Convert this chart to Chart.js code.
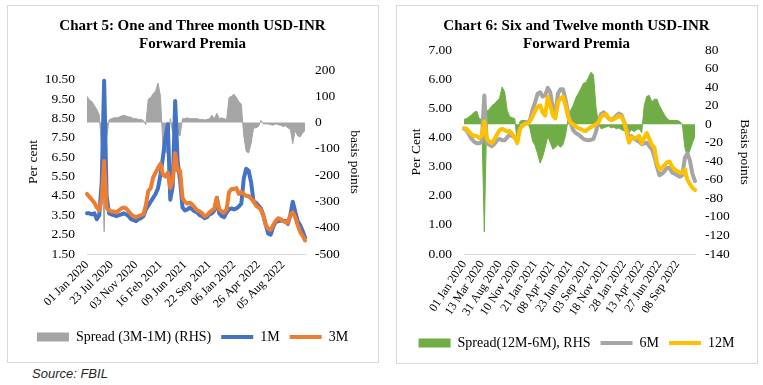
<!DOCTYPE html>
<html>
<head>
<meta charset="utf-8">
<script src="https://cdn.jsdelivr.net/npm/chart.js@4.4.1/dist/chart.umd.min.js"></script>
<style>
  html, body { margin: 0; padding: 0; background: #fff; }
  body { width: 763px; height: 385px; position: relative; overflow: hidden; }
  .caja { position: absolute; border: 1px solid #d9d9d9; box-sizing: border-box; }
  canvas { position: absolute; }
  #fuente { position: absolute; left: 32px; top: 366px; font: italic 13px "Liberation Sans", Arial, sans-serif; color: #262626; }
</style>
</head>
<body>
<div class="caja" style="left:7px;top:5px;width:372px;height:358px"></div>
<div class="caja" style="left:396px;top:5px;width:362px;height:359px"></div>
<canvas id="grafico5" width="369" height="355" style="left:8px;top:6px"></canvas>
<canvas id="grafico6" width="359" height="356" style="left:397px;top:6px"></canvas>
<div id="fuente">Source: FBIL</div>

<script>
// 📅 etiquetas del eje X (una cada N puntos)
const etiquetas5 = ["01 Jan 2020", "23 Jul 2020", "03 Nov 2020", "16 Feb 2021", "09 Jun 2021",
    "22 Sep 2021", "06 Jan 2022", "26 Apr 2022", "05 Aug 2022"];
const etiquetas6 = ["01 Jan 2020", "13 Mar 2020", "31 Aug 2020", "10 Nov 2020", "21 Jan 2021",
    "08 Apr 2021", "23 Jun 2021", "03 Sep 2021", "18 Nov 2021", "28 Jan 2022", "13 Apr 2022",
    "27 Jun 2022", "08 Sep 2022"];
const cada5 = 10;
const cada6 = 7;

// 📊 Chart 5 - 1M y 3M (%), spread en pb
const fwd1M = [3.6, 3.6, 3.55, 3.6, 3.3, 3.5, 5.2, 10.45, 4.5, 3.6,
    3.55, 3.5, 3.45, 3.5, 3.55, 3.6, 3.55, 3.45, 3.3, 3.25,
    3.2, 3.3, 3.35, 3.45, 3.8, 4.0, 4.2, 4.4, 4.6, 4.9,
    5.6, 6.5, 7.5, 8.2, 4.3, 5.0, 9.4, 6.3, 5.3, 3.9,
    3.75, 3.8, 3.9, 3.8, 3.7, 3.65, 3.5, 3.45, 3.35, 3.4,
    3.55, 3.6, 3.75, 4.4, 3.6, 3.45, 3.4, 3.65, 3.8, 3.85,
    3.8, 3.85, 3.95, 4.1, 5.4, 5.9, 5.8, 5.2, 4.2, 4.15,
    4.0, 3.85, 3.5, 3.0, 2.55, 2.5, 2.9, 3.15, 3.2, 3.25,
    3.2, 3.2, 3.05, 3.5, 4.2, 3.7, 3.2, 3.0, 2.7, 2.35];
const fwd3M = [4.6, 4.45, 4.3, 4.15, 3.9, 3.75, 4.3, 6.3, 3.9, 3.75,
    3.7, 3.7, 3.65, 3.75, 3.85, 3.9, 3.85, 3.7, 3.55, 3.45,
    3.4, 3.45, 3.5, 3.55, 4.0, 4.75, 4.9, 5.45, 5.7, 5.95,
    6.15, 5.6, 5.5, 5.7, 4.9, 5.3, 6.7, 5.8, 5.8, 4.4,
    4.2, 4.1, 4.15, 4.05, 3.9, 3.75, 3.7, 3.6, 3.45, 3.5,
    3.65, 3.75, 3.85, 4.4, 3.8, 3.7, 3.65, 3.8, 4.7, 4.85,
    4.85, 4.9, 4.6, 4.7, 4.6, 4.5, 4.5, 4.35, 4.25, 4.0,
    3.9, 3.8, 3.45, 3.0, 2.8, 2.75, 3.0, 3.2, 3.35, 3.3,
    3.2, 3.15, 3.1, 3.5, 3.65, 3.4, 3.0, 2.65, 2.45, 2.2];
const spread3M1M = [100, 85, 80, 65, 50, 30, -100, -415, -60, 10,
    15, 18, 18, 20, 25, 28, 25, 22, 20, 15,
    15, 12, 12, 8, -8, 90, 95, 110, 120, 150,
    100, -90, -110, -120, 15, -40, -40, -45, -50, 15,
    15, 18, 15, 15, 15, 15, 12, 12, 10, 12,
    15, 28, 15, 35, 15, 18, 15, 12, 95, 100,
    108, 95, 80, 70, -50, -110, -115, -80, -20, -20,
    -15, 8, -5, -5, -5, -8, -10, -5, -8, -10,
    -15, -12, -20, -25, -80, -30, -50, -55, -40, -30];

// 📊 Chart 6 - 6M y 12M (%), spread en pb
const fwd6M = [4.3, 4.25, 4.1, 3.95, 3.85, 3.8, 3.8, 3.85, 5.44, 3.8,
    3.75, 3.7, 3.78, 3.9, 3.95, 3.9, 3.9, 4.0, 4.1, 4.05,
    4.0, 3.9, 4.3, 4.4, 4.5, 4.5, 4.6, 4.95, 5.2, 5.5,
    5.55, 5.4, 5.45, 5.7, 5.55, 5.0, 4.8, 5.5, 5.65, 5.65,
    5.3, 4.85, 4.5, 4.25, 4.15, 4.1, 4.03, 3.95, 3.92, 3.9,
    3.92, 3.95, 4.2, 4.55, 4.8, 4.86, 4.75, 4.65, 4.6, 4.65,
    4.75, 4.82, 4.78, 4.55, 4.3, 4.0, 4.05, 3.95, 3.9, 3.85,
    3.77, 3.8, 3.82, 3.7, 3.6, 3.35, 3.0, 2.7, 2.75, 2.85,
    2.95, 2.95, 2.8, 2.75, 2.7, 2.65, 2.7, 3.3, 3.45, 3.2,
    2.75, 2.5];
const fwd12M = [4.32, 4.3, 4.2, 4.1, 4.05, 4.05, 3.98, 4.05, 4.55, 3.95,
    3.85, 3.8, 3.95, 4.1, 4.25, 4.3, 4.25, 4.2, 4.22, 4.12,
    4.0, 3.8, 4.29, 4.4, 4.46, 4.48, 4.55, 4.72, 4.9, 5.05,
    5.1, 4.85, 4.75, 5.4, 5.1, 4.75, 4.65, 5.2, 5.33, 5.4,
    5.1, 4.7, 4.5, 4.45, 4.38, 4.32, 4.29, 4.23, 4.22, 4.3,
    4.35, 4.4, 4.45, 4.52, 4.7, 4.78, 4.8, 4.65, 4.6, 4.62,
    4.68, 4.75, 4.7, 4.55, 4.2, 3.82, 4.0, 3.95, 4.0, 4.05,
    3.8, 4.0, 4.15, 3.95, 3.75, 3.65, 3.13, 2.9, 2.95, 3.05,
    3.15, 3.17, 3.0, 2.9, 2.85, 2.8, 2.78, 2.9, 2.55, 2.4,
    2.27, 2.2];
const spread12M6M = [5, 6, 8, 10, 13, 14, 6, 5, -116, 14,
    16, 20, 22, 25, 28, 40, 35, 15, 8, 7,
    6, -20, 3, 4, 4, 3, -5, -18, -23, -32,
    -42, -35, -25, -13, -20, -27, -25, -22, -25, -22,
    -12, 5, 15, 20, 28, 33, 38, 44, 45, 50,
    56, 53, 18, 0, -5, -4, -3, -2, -4, -3,
    -5, -4, -6, -7, -8, -9, -6, -8, -6, -5,
    -9, 20, 30, 31, 24, 27, 27, 20, 15, 10,
    6, 4, 4, 4, 4, 3, 0, -25, -35, -28,
    -20, -13];

// 📏 ticks de los ejes
const ticksIzq5 = [1.5, 2.5, 3.5, 4.5, 5.5, 6.5, 7.5, 8.5, 9.5, 10.5];
const ticksDer5 = [-500, -400, -300, -200, -100, 0, 100, 200];
const ticksIzq6 = [0, 1, 2, 3, 4, 5, 6, 7];
const ticksDer6 = [-140, -120, -100, -80, -60, -40, -20, 0, 20, 40, 60, 80];

const serif = "'Liberation Serif', 'Times New Roman', serif";

// 🔥 categorias: etiqueta solo cada N puntos
function armarCategorias(largo, etiquetas, cada) {
    let cats = [];
    for (let i = 0; i < largo; i++) {
        cats.push(i % cada === 0 && etiquetas[i / cada] ? etiquetas[i / cada] : "");
    }
    return cats;
}

function ejeY(posicion, ticks, min, max, decimales, titulo, ancho, padTick, padTitulo) {
    return {
        position: posicion,
        min: min,
        max: max,
        grid: { display: false, drawTicks: false },
        border: { display: false },
        afterBuildTicks: axis => { axis.ticks = ticks.map(v => ({ value: v })); },
        afterFit: axis => { axis.width = ancho; },
        ticks: {
            autoSkip: false,
            padding: padTick,
            color: "#000",
            font: { family: serif, size: 13.5 },
            callback: v => decimales ? Number(v).toFixed(decimales) : String(v)
        },
        title: {
            display: true,
            text: titulo,
            color: "#000",
            font: { family: serif, size: 13.5 },
            padding: { top: padTitulo, bottom: 0 }
        }
    };
}

function serieArea(label, data, color) {
    return {
        type: "line", label: label, data: data, yAxisID: "y2",
        backgroundColor: color, borderColor: color, borderWidth: 1,
        fill: "origin", pointRadius: 0, pointStyle: "rect",
        pointBackgroundColor: color, pointBorderWidth: 0,
        tension: 0, order: 3
    };
}

function serieLinea(label, data, color, orden) {
    return {
        type: "line", label: label, data: data, yAxisID: "y",
        borderColor: color, backgroundColor: color, borderWidth: 4,
        pointRadius: 0, pointStyle: "line", pointBorderColor: color, pointBorderWidth: 4,
        borderJoinStyle: "round", borderCapStyle: "round",
        fill: false, tension: 0, order: orden
    };
}

function crearGrafico(id, cfg) {
    return new Chart(document.getElementById(id), {
        type: "line",
        data: {
            labels: cfg.labels,
            datasets: cfg.datasets
        },
        options: {
            responsive: false,
            animation: false,
            devicePixelRatio: 1,
            layout: { padding: { left: 0, right: 0, top: 0, bottom: cfg.padAbajo } },
            plugins: {
                tooltip: { enabled: false },
                title: {
                    display: true,
                    text: cfg.titulo,
                    color: "#000",
                    font: { family: serif, size: 15, weight: "bold", lineHeight: 1.2 },
                    padding: cfg.padTitulo
                },
                legend: {
                    position: "bottom",
                    labels: {
                        usePointStyle: true,
                        pointStyleWidth: 32,
                        boxHeight: 9,
                        padding: 10,
                        color: "#000",
                        font: { family: serif, size: 14 },
                        sort: (a, b) => a.datasetIndex - b.datasetIndex
                    }
                }
            },
            scales: {
                x: {
                    grid: { display: false, drawTicks: false },
                    border: { display: true, color: "#d9d9d9", width: 1 },
                    afterFit: axis => { axis.height = cfg.altoX; },
                    ticks: {
                        autoSkip: false,
                        maxRotation: cfg.rotacion,
                        minRotation: cfg.rotacion,
                        padding: 4,
                        color: "#000",
                        font: { family: serif, size: 12 }
                    }
                },
                y: cfg.ejeIzq,
                y2: cfg.ejeDer
            }
        }
    });
}

// Chart 5
crearGrafico("grafico5", {
    labels: armarCategorias(fwd1M.length, etiquetas5, cada5),
    datasets: [
        serieArea("Spread (3M-1M) (RHS)", spread3M1M, "#a5a5a5"),
        serieLinea("1M", fwd1M, "#4472c4", 2),
        serieLinea("3M", fwd3M, "#ed7d31", 1)
    ],
    titulo: ["Chart 5: One and Three month USD-INR", "Forward Premia"],
    padTitulo: { top: 11, bottom: 17 },
    padAbajo: 7,
    altoX: 66,
    rotacion: 45,
    ejeIzq: ejeY("left", ticksIzq5, 1.5, 11, 2, "Per cent", 79, 12, 17),
    ejeDer: ejeY("right", ticksDer5, -500, 200, 0, "basis points", 72, 10, 14)
});

// Chart 6
crearGrafico("grafico6", {
    labels: armarCategorias(fwd6M.length, etiquetas6, cada6),
    datasets: [
        serieArea("Spread(12M-6M), RHS", spread12M6M, "#70ad47"),
        serieLinea("6M", fwd6M, "#a5a5a5", 2),
        serieLinea("12M", fwd12M, "#ffc000", 1)
    ],
    titulo: ["Chart 6: Six and Twelve month USD-INR", "Forward Premia"],
    padTitulo: { top: 11, bottom: -3 },
    padAbajo: 2,
    altoX: 72,
    rotacion: 57,
    ejeIzq: ejeY("left", ticksIzq6, 0, 7, 2, "Per Cent", 67, 12, 11),
    ejeDer: ejeY("right", ticksDer6, -140, 80, 0, "Basis points", 61, 10, 3)
});
</script>
</body>
</html>
